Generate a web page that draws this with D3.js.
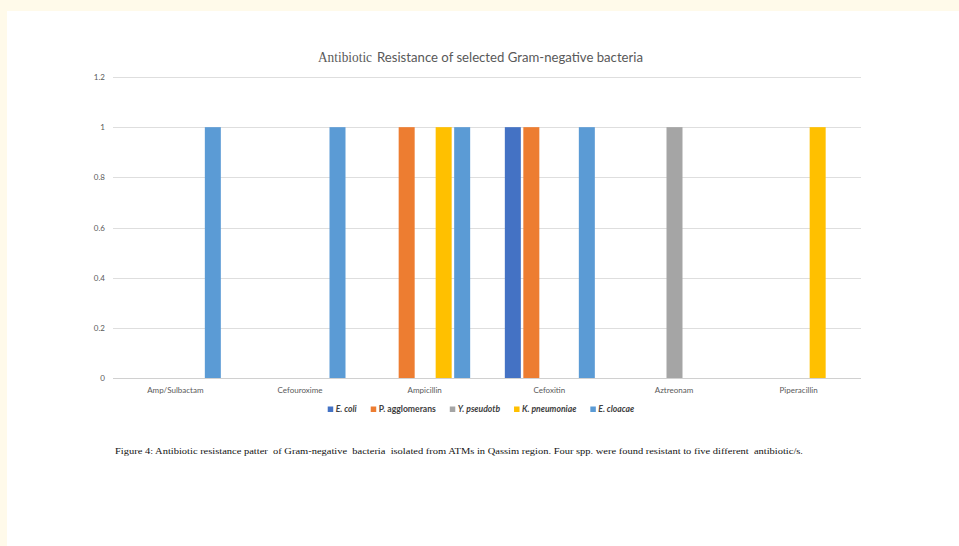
<!DOCTYPE html>
<html><head><meta charset="utf-8">
<script src="https://cdn.jsdelivr.net/npm/d3@7"></script>
<style>
html,body{margin:0;padding:0;background:#fffaea;}
svg{display:block;}
</style></head>
<body>
<svg id="c" width="959" height="546"></svg>
<script>
const categories = ["Amp/Sulbactam","Cefouroxime","Ampicillin","Cefoxitin","Aztreonam","Piperacillin"];
const seriesNames = ["E. coli","P. agglomerans","Y. pseudotb","K. pneumoniae","E. cloacae"];
const seriesItalic = [true,false,true,true,true];
const eColi        = [0,0,0,1,0,0];
const pAgglomerans = [0,0,1,1,0,0];
const yPseudotb    = [0,0,0,0,1,0];
const kPneumoniae  = [0,0,1,0,0,1];
const eCloacae     = [1,1,1,1,0,0];
const yTicks = [0,0.2,0.4,0.6,0.8,1,1.2];
const colors = ["#4472C4","#ED7D31","#A5A5A5","#FFC000","#5B9BD5"];
const titleA = "Antibiotic";
const titleB = "Resistance of selected Gram-negative bacteria";
const caption = "Figure 4: Antibiotic resistance patter  of Gram-negative  bacteria  isolated from ATMs in Qassim region. Four spp. were found resistant to five different  antibiotic/s.";

const seriesValues = [eColi,pAgglomerans,yPseudotb,kPneumoniae,eCloacae];
const svg = d3.select("#c");
svg.append("rect").attr("x",7).attr("y",11).attr("width",952).attr("height",535).attr("fill","#ffffff");

const sans = "Lato, 'Open Sans', sans-serif";
const serif = "'Liberation Serif', 'DejaVu Serif', serif";

const x0 = d3.scaleBand().domain(categories).range([113,861]).padding(0);
const y = d3.scaleLinear().domain([0,1.2]).range([378,77]);
const x1 = d3.scaleBand().domain(seriesNames).range([-44.5,45.5]).paddingInner(0.135).paddingOuter(0);

// gridlines
svg.append("g").selectAll("line").data(yTicks).join("line")
  .attr("x1",113).attr("x2",861)
  .attr("y1",d=>Math.round(y(d))+0.5).attr("y2",d=>Math.round(y(d))+0.5)
  .attr("stroke",d=>d===0?"#d0d0d0":"#dedede").attr("stroke-width",1);

// y labels
svg.append("g").selectAll("text").data(yTicks).join("text")
  .attr("x",105).attr("y",d=>y(d)+3)
  .attr("text-anchor","end").attr("font-family",sans).attr("font-size",8).attr("fill","#595959")
  .text(d=>d);

// bars
const groups = svg.append("g").selectAll("g").data(categories).join("g")
  .attr("transform",d=>`translate(${x0(d)+x0.bandwidth()/2},0)`);
groups.selectAll("rect").data((c,i)=>seriesNames.map((s,j)=>({s,j,v:seriesValues[j][i]})))
  .join("rect")
  .attr("x",d=>x1(d.s)).attr("width",x1.bandwidth())
  .attr("y",d=>y(d.v)).attr("height",d=>y(0)-y(d.v))
  .attr("fill",d=>colors[d.j]);

// category labels
svg.append("g").selectAll("text").data(categories).join("text")
  .attr("x",d=>x0(d)+x0.bandwidth()/2).attr("y",393)
  .attr("text-anchor","middle").attr("font-family",sans).attr("font-size",8).attr("fill","#595959")
  .text(d=>d);

// title
const t = svg.append("text").attr("y",62).attr("fill","#595959").attr("font-size",14);
t.append("tspan").attr("x",318).attr("font-family",serif).attr("textLength",54).attr("lengthAdjust","spacingAndGlyphs").text(titleA);
t.append("tspan").attr("x",377).attr("font-family",sans).attr("textLength",266).attr("lengthAdjust","spacingAndGlyphs").text(titleB);

// legend
const lg = svg.append("g");
let lx = 0;
seriesNames.forEach((s,j)=>{
  const g = lg.append("g");
  g.append("rect").attr("x",0).attr("y",-5.5).attr("width",5.5).attr("height",5.5).attr("fill",colors[j]);
  const tx = g.append("text").attr("x",8).attr("y",0).attr("font-family",sans).attr("font-size",8.6)
    .attr("font-weight","bold").attr("font-style",seriesItalic[j]?"italic":"normal").attr("fill","#404040").text(s);
  const w = 8 + tx.node().getComputedTextLength();
  g.attr("transform",`translate(${lx},0)`);
  lx += w + 14;
});
const totalW = lx - 14;
lg.attr("transform",`translate(${481 - totalW/2},412)`);

// caption
svg.append("text").attr("x",115).attr("y",454).attr("font-family",serif).attr("font-size",8.5)
  .attr("fill","#111").attr("textLength",688).attr("lengthAdjust","spacingAndGlyphs")
  .attr("xml:space","preserve").style("white-space","pre").text(caption);
</script>
</body></html>
